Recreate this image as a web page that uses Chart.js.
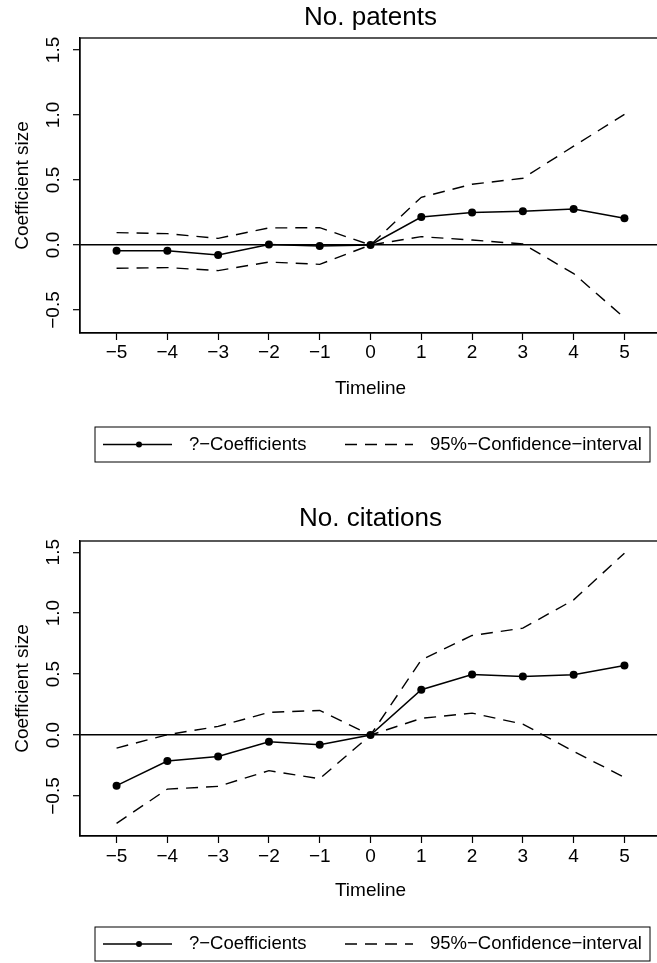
<!DOCTYPE html>
<html>
<head>
<meta charset="utf-8">
<script src="https://cdn.jsdelivr.net/npm/chart.js@4.4.0/dist/chart.umd.min.js"></script>
<style>
html, body { margin: 0; padding: 0; background: #fff; }
#wrap { width: 657px; height: 963px; overflow: hidden; }
canvas { display: block; }
</style>
</head>
<body>
<div id="wrap">
<canvas id="patents" width="670" height="480"></canvas>
<canvas id="citations" width="670" height="483"></canvas>
</div>
<script>
const years = [-5, -4, -3, -2, -1, 0, 1, 2, 3, 4, 5];
const patentsCoef = [-0.044, -0.044, -0.077, 0.003, -0.008, 0, 0.215, 0.249, 0.259, 0.277, 0.205];
const patentsUpper = [0.095, 0.087, 0.051, 0.131, 0.133, 0, 0.367, 0.467, 0.513, 0.76, 1.005];
const patentsLower = [-0.179, -0.174, -0.197, -0.131, -0.149, 0, 0.064, 0.038, 0.008, -0.22, -0.56];
const citationsCoef = [-0.415, -0.213, -0.175, -0.055, -0.079, 0, 0.372, 0.497, 0.481, 0.495, 0.571];
const citationsUpper = [-0.107, 0.003, 0.071, 0.186, 0.202, 0, 0.617, 0.817, 0.877, 1.109, 1.492];
const citationsLower = [-0.724, -0.443, -0.421, -0.292, -0.358, 0, 0.137, 0.18, 0.09, -0.134, -0.347];
const xTicks = [-5, -4, -3, -2, -1, 0, 1, 2, 3, 4, 5];
const yTicks = [-0.5, 0, 0.5, 1, 1.5];
const legendLabels = ['?\u2212Coefficients', '95%\u2212Confidence\u2212interval'];

const FONT = '"Liberation Sans", Arial, sans-serif';
Chart.defaults.font.family = FONT;
Chart.defaults.color = '#000';

const minus = s => String(s).replace('-', '\u2212');

// box around plot, title on top, R-style legend below
const framePlugin = {
  id: 'frame',
  afterDraw(chart, args, opts) {
    const ctx = chart.ctx, a = chart.chartArea;
    ctx.save();
    ctx.strokeStyle = '#000';
    ctx.lineWidth = 1.3;
    ctx.strokeRect(a.left, a.top, a.right - a.left, a.bottom - a.top);

    ctx.fillStyle = '#000';
    ctx.font = '26px ' + FONT;
    ctx.textAlign = 'center';
    ctx.textBaseline = 'middle';
    ctx.fillText(opts.title, (a.left + a.right) / 2, opts.titleY);

    const L = opts.legend;
    const my = (L.top + L.bottom) / 2;
    ctx.lineWidth = 1;
    ctx.strokeRect(L.left, L.top, L.right - L.left, L.bottom - L.top);
    ctx.lineWidth = 1.5;
    ctx.beginPath();
    ctx.moveTo(L.left + 8, my); ctx.lineTo(L.left + 77, my);
    ctx.stroke();
    ctx.beginPath();
    ctx.arc(L.left + 44, my, 3, 0, Math.PI * 2);
    ctx.fill();
    ctx.setLineDash([12, 8]);
    ctx.beginPath();
    ctx.moveTo(L.left + 250, my); ctx.lineTo(L.left + 318, my);
    ctx.stroke();
    ctx.setLineDash([]);
    ctx.font = '18.5px ' + FONT;
    ctx.textAlign = 'left';
    ctx.fillText(legendLabels[0], L.left + 94, my);
    ctx.fillText(legendLabels[1], L.left + 335, my);
    ctx.restore();
  }
};

function makeChart(id, title, coef, upper, lower, g) {
  const pts = arr => years.map((x, i) => ({ x: x, y: arr[i] }));
  const dashed = {
    borderColor: '#000', borderWidth: 1.4, borderDash: [12, 8],
    pointRadius: 0, fill: false, tension: 0
  };
  return new Chart(document.getElementById(id), {
    type: 'line',
    data: {
      datasets: [
        {
          label: legendLabels[0], data: pts(coef),
          borderColor: '#000', backgroundColor: '#000', borderWidth: 1.5,
          pointRadius: 4, pointBackgroundColor: '#000', pointBorderWidth: 0,
          fill: false, tension: 0
        },
        Object.assign({ label: legendLabels[1], data: pts(upper) }, dashed),
        Object.assign({ label: 'lower', data: pts(lower) }, dashed)
      ]
    },
    options: {
      responsive: false,
      animation: false,
      layout: { padding: { left: 0, top: g.top, right: 9, bottom: 0 } },
      plugins: {
        legend: { display: false },
        tooltip: { enabled: false },
        frame: { title: title, titleY: g.titleY, legend: g.legend }
      },
      scales: {
        x: {
          type: 'linear', min: -5.72, max: 5.72,
          afterBuildTicks: s => { s.ticks = xTicks.map(v => ({ value: v })); },
          afterFit: s => { s.height = g.xHeight; s.paddingLeft = 0; s.paddingRight = 0; },
          grid: { drawOnChartArea: false, tickLength: 7, color: '#000', tickWidth: 1.2 },
          border: { display: true, color: '#000', width: 1.3 },
          ticks: { font: { size: 19 }, padding: g.xTickPad, callback: v => minus(v) },
          title: { display: true, text: 'Timeline', font: { size: 19 }, padding: { top: 0, bottom: g.xTitlePad } }
        },
        y: {
          type: 'linear', min: g.yMin, max: g.yMax,
          afterBuildTicks: s => { s.ticks = yTicks.map(v => ({ value: v })); },
          afterFit: s => { s.width = 80; },
          grid: {
            drawOnChartArea: true, tickLength: 7, tickWidth: 1.2, tickColor: '#000',
            color: c => (c.tick && c.tick.value === 0 ? '#000' : 'rgba(0,0,0,0)'),
            lineWidth: 1.4
          },
          border: { display: true, color: '#000', width: 1.3 },
          ticks: {
            font: { size: 19 }, padding: 0, minRotation: 90, maxRotation: 90,
            crossAlign: 'center', callback: v => minus(Number(v).toFixed(1))
          },
          title: { display: true, text: 'Coefficient size', font: { size: 19 }, padding: { top: 11, bottom: 0 } }
        }
      }
    },
    plugins: [framePlugin]
  });
}

makeChart('patents', 'No. patents', patentsCoef, patentsUpper, patentsLower, {
  top: 38, titleY: 18, xHeight: 147, xTickPad: 1, xTitlePad: 80,
  yMin: -0.677, yMax: 1.592,
  legend: { left: 95, right: 650, top: 427, bottom: 462 }
});

makeChart('citations', 'No. citations', citationsCoef, citationsUpper, citationsLower, {
  top: 61, titleY: 39, xHeight: 127, xTickPad: 2, xTitlePad: 61,
  yMin: -0.828, yMax: 1.592,
  legend: { left: 95, right: 650, top: 447, bottom: 481 }
});
</script>
</body>
</html>
